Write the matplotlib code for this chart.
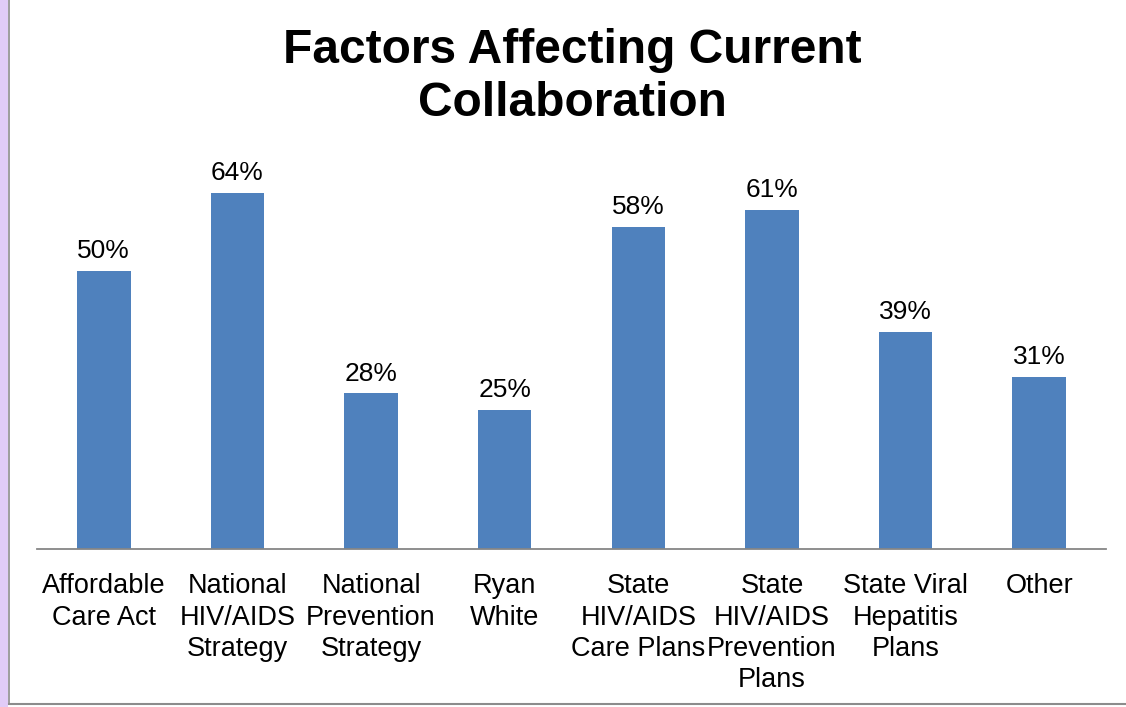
import matplotlib
matplotlib.use("Agg")
import matplotlib.pyplot as plt
from matplotlib.patches import Rectangle
from matplotlib.lines import Line2D

categories = [
    "Affordable\nCare Act",
    "National\nHIV/AIDS\nStrategy",
    "National\nPrevention\nStrategy",
    "Ryan\nWhite",
    "State\nHIV/AIDS\nCare Plans",
    "State\nHIV/AIDS\nPrevention\nPlans",
    "State Viral\nHepatitis\nPlans",
    "Other",
]
values = [50, 64, 28, 25, 58, 61, 39, 31]
value_labels = [f"{v}%" for v in values]
title = "Factors Affecting Current\nCollaboration"

plt.rcParams["font.family"] = ["Liberation Sans", "DejaVu Sans"]

W, H = 1126, 707
fig = plt.figure(figsize=(W / 100, H / 100), dpi=100)
fig.patch.set_facecolor("white")

# left purple strip and frame lines
fig.add_artist(Rectangle((0, 0), 8 / W, 1, transform=fig.transFigure,
                         facecolor="#E1CCF7", edgecolor="none", zorder=0))
fig.add_artist(Line2D([8.5 / W, 8.5 / W], [3 / H, 1], transform=fig.transFigure,
                      color="#8C8C8C", lw=1.2))
fig.add_artist(Line2D([8.5 / W, 1], [3 / H, 3 / H], transform=fig.transFigure,
                      color="#8C8C8C", lw=1.5))

ax_left, ax_right = 37, 1106
ax_base, ax_top = 549, 160
ymax = 70
ax = fig.add_axes([ax_left / W, 1 - ax_base / H, (ax_right - ax_left) / W,
                   (ax_base - ax_top) / H])
x = list(range(len(categories)))
ax.bar(x, values, width=0.4, color="#4F81BD", zorder=2)
ax.set_xlim(-0.5, len(categories) - 0.5)
ax.set_ylim(0, ymax)

for xi, v, lab in zip(x, values, value_labels):
    ax.annotate(lab, (xi, v), xytext=(0, 14.3), textcoords="offset points",
                ha="center", va="center", fontsize=19, color="black")

for s in ["top", "right", "left"]:
    ax.spines[s].set_visible(False)
ax.spines["bottom"].set_color("#868686")
ax.spines["bottom"].set_linewidth(1.3)
ax.set_yticks([])
ax.set_xticks(x)
ax.set_xticklabels(categories, fontsize=19.5, linespacing=1.26, va="top")
ax.tick_params(axis="x", length=0, pad=17.5)
ax.patch.set_alpha(0)

fig.text(572 / W, 1 - 77 / H, title, ha="center", va="center",
         fontsize=34.5, fontweight="bold", linespacing=1.25)

fig.savefig("out.png", dpi=100, facecolor="white")
